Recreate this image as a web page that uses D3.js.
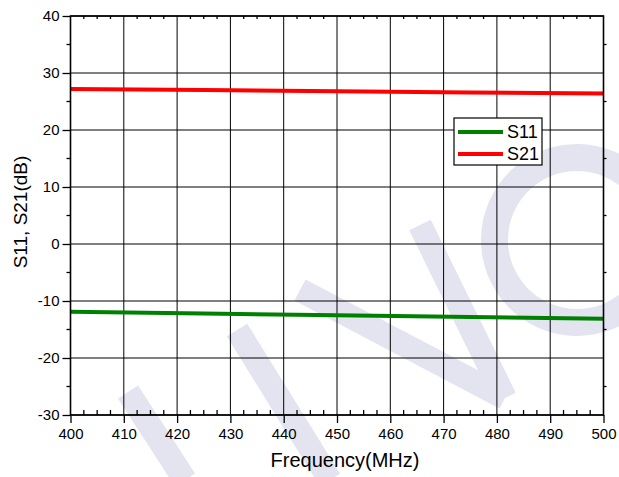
<!DOCTYPE html>
<html><head><meta charset="utf-8">
<script src="https://cdn.jsdelivr.net/npm/d3@7"></script>
<style>body{margin:0;background:#fff}svg{display:block}text{font-family:"Liberation Sans",Arial,sans-serif}</style>
</head><body><svg id="c" width="619" height="477"></svg>
<script>
const freq = [400, 425, 450, 475, 500];
const s11 = [-11.9, -12.2, -12.5, -12.8, -13.1];
const s21 = [27.2, 27.0, 26.8, 26.6, 26.4];
const xTicks = [400,410,420,430,440,450,460,470,480,490,500];
const yTicks = [-30,-20,-10,0,10,20,30,40];
const seriesNames = ["S11","S21"];
const seriesColors = ["#008000","#ff0000"];

const svg = d3.select("#c");
const L=70.5, R=603.5, T=16, B=415;
const x = d3.scaleLinear().domain([400,500]).range([L,R]);
const y = d3.scaleLinear().domain([-30,40]).range([B,T]);

// watermark
const wmc = "#e4e4f1";
const wm = svg.append("g").attr("fill","none").attr("stroke",wmc).attr("stroke-width",24).attr("stroke-linecap","butt");
[[[128,392],[185,480]],[[237,330],[330,480]],[[300,290],[505,398]],[[420,225],[505,398]]].forEach(p=>wm.append("path").attr("d",d3.line()(p)));
svg.append("path").attr("d", d3.arc()({innerRadius:69,outerRadius:96,startAngle:0.8,endAngle:-3.9})).attr("transform","translate(577,240)").attr("fill",wmc);

// grid
const g = svg.append("g");
xTicks.forEach(v=>g.append("line").attr("x1",x(v)).attr("x2",x(v)).attr("y1",T).attr("y2",B).attr("stroke","#000").attr("stroke-width",1));
yTicks.forEach(v=>g.append("line").attr("x1",L).attr("x2",R).attr("y1",y(v)).attr("y2",y(v)).attr("stroke","#000").attr("stroke-width",1));

// minor ticks
const xMinor = d3.range(400,501,2.5).filter(v=>v%10!==0);
const yMinor = d3.range(-30,41,5).filter(v=>v%10!==0);
xMinor.forEach(v=>{
  g.append("line").attr("x1",x(v)).attr("x2",x(v)).attr("y1",B).attr("y2",B-5).attr("stroke","#000").attr("stroke-width",1.3);
  g.append("line").attr("x1",x(v)).attr("x2",x(v)).attr("y1",T).attr("y2",T+3).attr("stroke","#000").attr("stroke-width",1.3);
});
yMinor.forEach(v=>{
  g.append("line").attr("x1",L).attr("x2",L-4).attr("y1",y(v)).attr("y2",y(v)).attr("stroke","#000").attr("stroke-width",1.3);
  g.append("line").attr("x1",R).attr("x2",R+3).attr("y1",y(v)).attr("y2",y(v)).attr("stroke","#000").attr("stroke-width",1.3);
});

// lines
const line = d3.line().x((d,i)=>x(freq[i])).y(d=>y(d));
[s11,s21].forEach((s,i)=>svg.append("path").attr("d",line(s)).attr("fill","none").attr("stroke",seriesColors[i]).attr("stroke-width",4));

// axes
const fmt = d=>String(d);
const xAxis = svg.append("g").attr("transform",`translate(0,${B})`).call(d3.axisBottom(x).tickValues(xTicks).tickSize(8).tickPadding(5).tickFormat(fmt));
const yAxis = svg.append("g").attr("transform",`translate(${L},0)`).call(d3.axisLeft(y).tickValues(yTicks).tickSize(8).tickPadding(3).tickFormat(fmt));
[xAxis,yAxis].forEach(a=>{a.select(".domain").remove();a.selectAll("line").attr("stroke","#000").attr("stroke-width",1.3);a.selectAll("text").attr("font-size",15).attr("fill","#000").attr("font-family","'Liberation Sans',Arial,sans-serif");});

// frame
svg.append("rect").attr("x",L).attr("y",T).attr("width",R-L).attr("height",B-T).attr("fill","none").attr("stroke","#000").attr("stroke-width",1.6);

// axis labels
svg.append("text").attr("x",345).attr("y",467).attr("text-anchor","middle").attr("font-size",20).text("Frequency(MHz)");
svg.append("text").attr("transform","translate(27,212) rotate(-90)").attr("text-anchor","middle").attr("font-size",19).text("S11, S21(dB)");

// legend
const lg = svg.append("g");
lg.append("rect").attr("x",454).attr("y",118).attr("width",88).attr("height",47).attr("fill","#fff").attr("stroke","#000").attr("stroke-width",1.2);
seriesNames.forEach((n,i)=>{
  const yy = 132 + i*22;
  lg.append("line").attr("x1",458).attr("x2",503).attr("y1",yy).attr("y2",yy).attr("stroke",seriesColors[i]).attr("stroke-width",4);
  lg.append("text").attr("x",507).attr("y",yy+6).attr("font-size",18).text(n);
});
</script></body></html>
